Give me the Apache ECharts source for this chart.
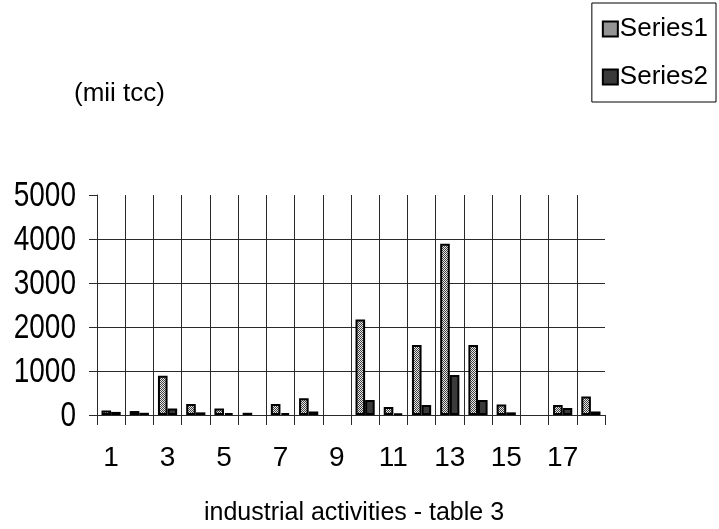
<!DOCTYPE html>
<html>
<head>
<meta charset="utf-8">
<script src="https://cdn.jsdelivr.net/npm/echarts@6/dist/echarts.min.js"></script>
<style>
  html, body { margin: 0; padding: 0; background: #fff; }
  #chart { width: 719px; height: 529px; }
</style>
</head>
<body>
<div id="chart"></div>
<script>
// Industrial activities (table 3), values in mii tcc
const categories = ['1','2','3','4','5','6','7','8','9','10','11','12','13','14','15','16','17','18'];
const series1 = [100, 90, 890, 250, 150, 50, 250, 380, null, 2170, 180, 1590, 3890, 1590, 240, null, 230, 420];
const series2 = [70, 50, 150, 60, 40, null, 40, 80, null, 340, 30, 230, 910, 340, 60, null, 160, 80];
const yTicks = [0, 1000, 2000, 3000, 4000, 5000];

const FONT = 'Liberation Sans, Arial, sans-serif';

// Fine diagonal hatch used as the fill of the first series
function hatch() {
  const c = document.createElement('canvas');
  c.width = 4; c.height = 4;
  const g = c.getContext('2d');
  g.fillStyle = '#e8e8e8';
  g.fillRect(0, 0, 4, 4);
  g.fillStyle = '#404040';
  for (let i = 0; i < 4; i++) {
    g.fillRect(i, i, 1, 1);
    g.fillRect((i + 2) % 4, i, 1, 1);
  }
  return c;
}

const lineColor = '#2a2a2a';
const chart = echarts.init(document.getElementById('chart'), null, { renderer: 'canvas' });
chart.setOption({
  animation: false,
  textStyle: { fontFamily: FONT },
  title: {
    text: '(mii tcc)',
    left: 74, top: 81, padding: 0,
    textStyle: { fontSize: 26, fontWeight: 'normal', color: '#000', fontFamily: FONT }
  },
  legend: {
    orient: 'vertical',
    right: 3, top: 3,
    padding: [13, 8, 12, 10],
    itemGap: 22,
    itemWidth: 15, itemHeight: 15,
    borderColor: '#000', borderWidth: 1, borderRadius: 0,
    icon: 'rect',
    textStyle: { fontSize: 26, color: '#000', padding: [0, 0, 0, -3], fontFamily: FONT },
    data: ['Series1', 'Series2']
  },
  grid: { left: 97, right: 114, top: 195, bottom: 114, containLabel: false },
  xAxis: {
    type: 'category',
    data: categories,
    boundaryGap: true,
    name: 'industrial activities - table 3',
    nameLocation: 'middle',
    nameGap: 86,
    nameTextStyle: { fontSize: 25, color: '#000', padding: [0, 0, 0, 6], fontFamily: FONT },
    axisLine: { show: true, lineStyle: { color: lineColor, width: 1 } },
    axisTick: { show: true, interval: 0, length: 10, lineStyle: { color: lineColor } },
    axisLabel: { interval: 1, fontSize: 28, color: '#000', margin: 29, fontFamily: FONT },
    splitLine: { show: true, interval: 0, showMinLine: false, showMaxLine: false, lineStyle: { color: lineColor, width: 1 } }
  },
  yAxis: {
    type: 'value',
    min: 0, max: 5000, interval: 1000,
    axisLine: { show: true, lineStyle: { color: lineColor, width: 1 } },
    axisTick: { show: true, length: 8, lineStyle: { color: lineColor } },
    axisLabel: { show: false },
    splitLine: { show: true, showMinLine: false, showMaxLine: false, lineStyle: { color: lineColor, width: 1 } }
  },
  series: [
    {
      name: 'Series1', type: 'bar', data: series1,
      barGap: '0%', barCategoryGap: '32%',
      itemStyle: { color: { image: hatch(), repeat: 'repeat' }, borderColor: '#000', borderWidth: 2 }
    },
    {
      name: 'Series2', type: 'bar', data: series2,
      barGap: '0%', barCategoryGap: '32%',
      itemStyle: { color: '#3a3a3a', borderColor: '#000', borderWidth: 2 }
    }
  ]
});

// Value-axis labels in a tall, condensed face, placed on the axis scale
const axisX = chart.convertToPixel({ xAxisIndex: 0 }, 0) - (chart.convertToPixel({ xAxisIndex: 0 }, 1) - chart.convertToPixel({ xAxisIndex: 0 }, 0)) / 2;
chart.setOption({
  graphic: yTicks.map(v => ({
    type: 'text',
    x: axisX - 21,
    y: chart.convertToPixel({ yAxisIndex: 0 }, v) + 1,
    scaleX: 0.8,
    silent: true,
    style: {
      text: String(v),
      font: '35px ' + FONT,
      fill: '#000',
      align: 'right',
      verticalAlign: 'middle'
    }
  }))
});
</script>
</body>
</html>
